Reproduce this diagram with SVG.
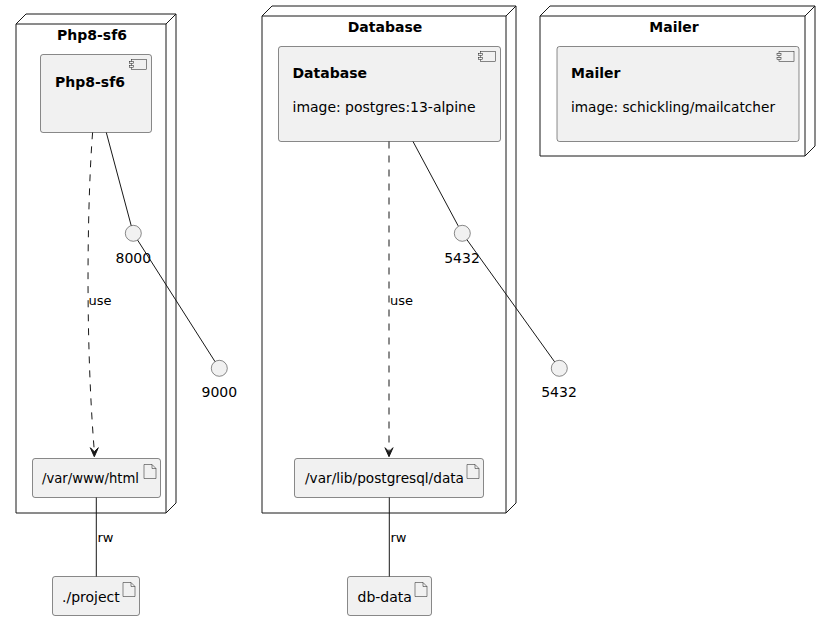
<svg xmlns="http://www.w3.org/2000/svg" width="832" height="620" viewBox="0 0 832 620">
<style>
.node{fill:#FFFFFF;stroke:#181818;stroke-width:1}
.nl{fill:none;stroke:#181818;stroke-width:1}
.box{fill:#F1F1F1;stroke:#181818;stroke-width:0.5}
.ic{fill:#F1F1F1;stroke:#181818;stroke-width:0.5}
.t{font-family:"DejaVu Sans",sans-serif;font-size:14px;fill:#000000}
.b{font-weight:bold}
.lab{font-family:"DejaVu Sans",sans-serif;font-size:13px;fill:#000000}
.ln{fill:none;stroke:#181818;stroke-width:1}
.dash{fill:none;stroke:#181818;stroke-width:1;stroke-dasharray:7,7}
.ah{fill:#181818;stroke:#181818;stroke-width:1}
</style>
<rect width="832" height="620" fill="#FFFFFF"/>

<g id="node-php">
<polygon class="node" points="16,24 26,14 176,14 176,503 166,513 16,513"/>
<path class="nl" d="M166,24 L176,14 M16,24 L166,24 M166,24 L166,513"/>
<text class="t b" x="92" y="39.5" text-anchor="middle">Php8-sf6</text>
</g>

<g id="node-database">
<polygon class="node" points="262,16 272,6 516,6 516,503 506,513 262,513"/>
<path class="nl" d="M506,16 L516,6 M262,16 L506,16 M506,16 L506,513"/>
<text class="t b" x="385" y="31.7" text-anchor="middle">Database</text>
</g>

<g id="node-mailer">
<polygon class="node" points="540,16 550,6 815,6 815,146 805,156 540,156"/>
<path class="nl" d="M805,16 L815,6 M540,16 L805,16 M805,16 L805,156"/>
<text class="t b" x="674" y="31.7" text-anchor="middle">Mailer</text>
</g>

<g id="comp-php">
<rect class="box" x="40.5" y="54.5" width="111" height="78" rx="2.5"/>
<rect class="ic" x="131.5" y="59.5" width="15" height="10"/>
<rect class="ic" x="129.5" y="61.5" width="4" height="2"/>
<rect class="ic" x="129.5" y="65.5" width="4" height="2"/>
<text class="t b" x="55" y="86.7">Php8-sf6</text>
</g>

<g id="comp-database">
<rect class="box" x="278.5" y="46.5" width="222" height="95" rx="2.5"/>
<rect class="ic" x="480.5" y="51.5" width="15" height="10"/>
<rect class="ic" x="478.5" y="53.5" width="4" height="2"/>
<rect class="ic" x="478.5" y="57.5" width="4" height="2"/>
<text class="t b" x="292.5" y="78.3">Database</text>
<text class="t" x="292.5" y="111.7" textLength="183" lengthAdjust="spacingAndGlyphs">image: postgres:13-alpine</text>
</g>

<g id="comp-mailer">
<rect class="box" x="557" y="46.5" width="242" height="95" rx="2.5"/>
<rect class="ic" x="779" y="51.5" width="15" height="10"/>
<rect class="ic" x="777" y="53.5" width="4" height="2"/>
<rect class="ic" x="777" y="57.5" width="4" height="2"/>
<text class="t b" x="571" y="78.3">Mailer</text>
<text class="t" x="571" y="111.7" textLength="204" lengthAdjust="spacingAndGlyphs">image: schickling/mailcatcher</text>
</g>

<g id="port-8000">
<circle class="box" cx="133.3" cy="233.3" r="8"/>
<text class="t" x="133.3" y="262.5" text-anchor="middle">8000</text>
</g>
<g id="port-9000">
<circle class="box" cx="219.3" cy="368.3" r="8"/>
<text class="t" x="219.3" y="397.3" text-anchor="middle">9000</text>
</g>
<g id="port-5432-in">
<circle class="box" cx="462.3" cy="233.3" r="8"/>
<text class="t" x="462" y="262.5" text-anchor="middle">5432</text>
</g>
<g id="port-5432-out">
<circle class="box" cx="559.3" cy="368.3" r="8"/>
<text class="t" x="559" y="397.3" text-anchor="middle">5432</text>
</g>

<g id="art-html">
<rect class="box" x="32.5" y="458.5" width="128" height="39" rx="2.5"/>
<path class="ic" d="M144,464.5 L152,464.5 L156,468.5 L156,478.5 L144,478.5 Z"/>
<path class="nl" style="stroke-width:0.5" d="M152,464.5 L152,468.5 L156,468.5"/>
<text class="t" x="42" y="483.3" textLength="97" lengthAdjust="spacingAndGlyphs">/var/www/html</text>
</g>

<g id="art-pgdata">
<rect class="box" x="294.5" y="458.5" width="189" height="39" rx="2.5"/>
<path class="ic" d="M467,464.5 L475,464.5 L479,468.5 L479,478.5 L467,478.5 Z"/>
<path class="nl" style="stroke-width:0.5" d="M475,464.5 L475,468.5 L479,468.5"/>
<text class="t" x="305" y="483.3" textLength="159" lengthAdjust="spacingAndGlyphs">/var/lib/postgresql/data</text>
</g>

<g id="art-project">
<rect class="box" x="52.5" y="576.5" width="87" height="39" rx="2.5"/>
<path class="ic" d="M123,582.5 L131,582.5 L135,586.5 L135,596.5 L123,596.5 Z"/>
<path class="nl" style="stroke-width:0.5" d="M131,582.5 L131,586.5 L135,586.5"/>
<text class="t" x="62" y="601.5">./project</text>
</g>

<g id="art-dbdata">
<rect class="box" x="347.5" y="576.5" width="84" height="39" rx="2.5"/>
<path class="ic" d="M415,582.5 L423,582.5 L427,586.5 L427,596.5 L415,596.5 Z"/>
<path class="nl" style="stroke-width:0.5" d="M423,582.5 L423,586.5 L427,586.5"/>
<text class="t" x="357.5" y="601.5">db-data</text>
</g>

<g id="connectors">
<path class="ln" d="M106.3,132.5 L131.2,225.6"/>
<path class="ln" d="M137.6,240.1 L215,361.6"/>
<path class="ln" d="M413,141.5 L458.2,225.9"/>
<path class="ln" d="M467,239.8 L554.6,361.8"/>
<path class="dash" d="M92.6,132.5 C88,190 84.5,330 94.3,451"/>
<polygon class="ah" points="94.3,456.7 90.3,447.7 94.3,451.7 98.3,447.7"/>
<text class="lab" x="88.5" y="304.5">use</text>
<path class="dash" d="M389,141.5 L389,451"/>
<polygon class="ah" points="389,456.7 385,447.7 389,451.7 393,447.7"/>
<text class="lab" x="390" y="304.5">use</text>
<path class="ln" d="M96.3,497.5 L96.3,576.5"/>
<text class="lab" x="97.5" y="541.7">rw</text>
<path class="ln" d="M389.3,497.5 L389.3,576.5"/>
<text class="lab" x="390.5" y="541.7">rw</text>
</g>
</svg>
